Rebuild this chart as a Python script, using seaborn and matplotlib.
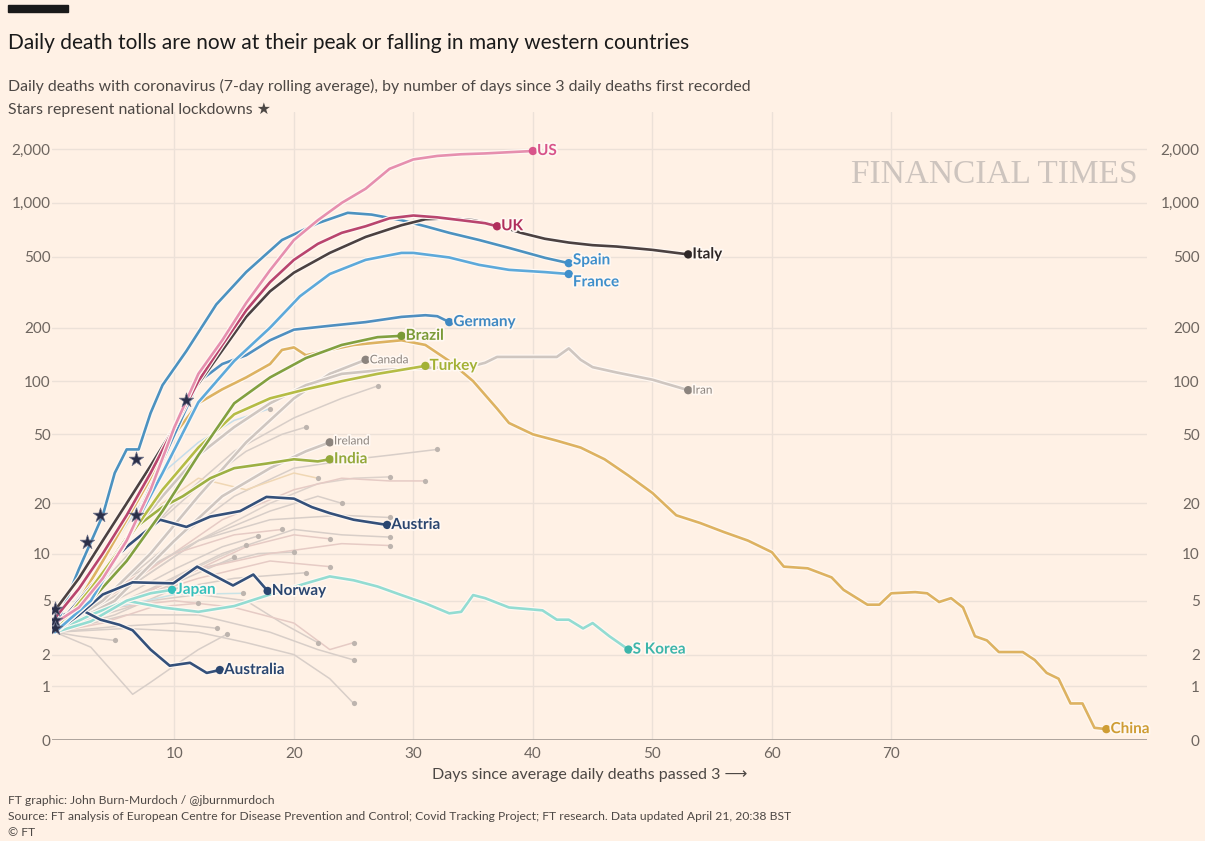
import numpy as np
import pandas as pd
import seaborn as sns
import matplotlib.pyplot as plt
import matplotlib.patheffects as pe
from matplotlib.patches import Rectangle

# ---------------- data ----------------
# days since 3 daily deaths, 7-day rolling average of daily deaths
us_days = [0, 2, 4, 6, 8, 10, 12, 14, 16, 18, 20, 22, 24, 26, 28, 30, 32, 34, 36, 38, 40]
us_vals = [3.5, 4.5, 7, 12, 24, 55, 110, 170, 275, 420, 620, 800, 1000, 1200, 1550, 1750, 1830, 1870, 1890, 1920, 1950]

uk_days = [0, 2, 4, 6, 8, 10, 12, 14, 16, 18, 20, 22, 24, 26, 28, 30, 32, 34, 36, 37]
uk_vals = [3.8, 6, 10, 17, 30, 55, 100, 160, 250, 360, 480, 590, 680, 740, 820, 850, 830, 800, 770, 740]

italy_days = [0, 2, 4, 6, 8, 10, 11, 13, 16, 18, 20, 23, 26, 29, 31, 33, 35, 37, 39, 41, 43, 45, 47, 50, 53]
italy_vals = [4.3, 7, 12, 20, 33, 55, 78, 120, 230, 320, 407, 525, 645, 750, 810, 820, 800, 750, 680, 630, 600, 580, 570, 546, 515]

spain_days = [0, 2, 4, 5, 6, 7, 8, 9, 11, 13.5, 16, 19, 22, 24.5, 26.5, 29, 31, 33, 35.5, 38, 41, 43]
spain_vals = [3.2, 8, 17, 30, 41, 41, 66, 95, 148, 270, 410, 620, 770, 880, 860, 800, 740, 680, 620, 560, 493, 460]

france_days = [0, 3, 6, 9, 12, 15, 18, 20.5, 23, 26, 29, 30, 33, 35.5, 38, 41, 43]
france_vals = [3, 5, 12, 30, 76, 130, 200, 300, 400, 480, 525, 525, 495, 450, 422, 410, 400]

germany_days = [0, 3, 6, 8, 10, 12, 14, 16, 18, 20, 23, 26, 29, 31, 32, 33]
germany_vals = [3, 5, 12, 25, 50, 99, 125, 140, 170, 195, 205, 215, 230, 235, 232, 215]

brazil_days = [0, 3, 6, 9, 12, 15, 18, 21, 24, 27, 29]
brazil_vals = [3, 5, 9, 18, 38, 75, 105, 135, 160, 177, 180]

turkey_days = [0, 3, 6, 9, 12, 15, 18, 21, 24, 27, 31]
turkey_vals = [3, 6, 12, 24, 42, 65, 80, 90, 100, 110, 122]

canada_days = [0, 4, 8, 12, 16, 20, 23, 26]
canada_vals = [3, 5, 10, 22, 45, 80, 110, 132]

iran_days = [0, 3, 6, 9, 12, 15, 18, 21, 24, 27, 30, 33, 35, 36, 37, 42, 43, 44, 45, 47, 50, 53]
iran_vals = [3, 6, 12, 22, 38, 55, 75, 95, 110, 115, 118, 120, 122, 127, 137, 137, 153, 132, 120, 112, 102, 89]

china_days = [0, 2, 4, 6, 8, 10, 12, 14, 16, 18, 19, 20, 21, 23, 25, 27, 29, 31, 33, 35, 37, 38, 40, 42,
              44, 46, 48, 50, 52, 54, 56, 58, 60, 61, 63, 65, 66, 68, 69, 70, 72, 73, 74, 75, 76, 77, 78,
              79, 81, 82, 83, 84, 85, 86, 87, 88]
china_vals = [3, 5, 9, 16, 28, 50, 75, 90, 105, 125, 150, 155, 140, 150, 160, 165, 170, 160, 130, 100, 70, 58,
              50, 46, 42, 36, 29, 23, 17, 15.3, 13.5, 12, 10.2, 8.3, 8.1, 7.1, 5.9, 4.7, 4.7, 5.6, 5.7, 5.6,
              4.9, 5.2, 4.5, 2.8, 2.6, 2.1, 2.1, 1.8, 1.37, 1.2, 0.6, 0.6, 0.17, 0.15]

india_days = [0, 3, 6.5, 9, 10.7, 13, 15, 17.7, 20, 22, 23]
india_vals = [3, 6, 14, 19, 22, 28, 32, 34, 36, 35, 36]

ireland_days = [0, 5, 10, 14, 18, 21, 23]
ireland_vals = [3, 5, 12, 22, 32, 40, 45]

austria_days = [0, 2, 4.6, 6, 8.8, 11, 13, 15.5, 17.7, 20, 21.5, 23, 25, 27.8]
austria_vals = [3.2, 5, 8.7, 11, 16, 14.5, 16.7, 18, 21.8, 21.3, 19, 17.5, 16, 14.9]

norway_days = [0, 2, 4, 6.5, 9.9, 11.9, 14.9, 16.6, 17.8]
norway_vals = [3, 4, 5.5, 6.6, 6.5, 8.3, 6.3, 7.4, 5.8]

japan_days = [0, 3, 6, 8, 9.8]
japan_vals = [3, 3.6, 5, 5.6, 5.9]

skorea_days = [0, 3, 6, 9, 12, 15, 18, 21, 23, 25, 27, 29, 31, 33, 34, 35, 36, 38, 40.8, 42, 43, 44.2, 45, 46.4, 48]
skorea_vals = [3, 4, 5, 4.5, 4.2, 4.6, 5.5, 6.5, 7.2, 6.8, 6.2, 5.45, 4.8, 4.1, 4.2, 5.45, 5.2, 4.5, 4.3, 3.7,
               3.7, 3.2, 3.5, 2.8, 2.2]

australia_days = [0, 2.3, 3.8, 5.4, 6.5, 8, 9.6, 11.3, 12.7, 13.8]
australia_vals = [3.9, 4.3, 3.7, 3.4, 3.1, 2.2, 1.6, 1.7, 1.37, 1.46]

# national lockdowns
star_days = [0, 0, 0, 2.7, 3.8, 6.8, 6.8, 11]
star_vals = [4.4, 3.7, 3.2, 11.8, 17, 36, 17, 78]

# unlabelled countries in the background
bg_days = [
    [0, 5, 10, 15, 20, 24, 27],
    [0, 4, 8, 12, 16, 19, 21],
    [0, 5, 10, 15, 20, 25, 28, 32],
    [0, 6, 12, 18, 22, 25, 28],
    [0, 8, 14, 20, 24, 28, 31],
    [0, 6, 12, 18, 22, 24],
    [0, 8, 14, 20, 24, 28],
    [0, 6, 12, 16, 20, 23],
    [0, 5, 10, 14, 17],
    [0, 5, 10, 15, 19],
    [0, 6, 12, 17, 20],
    [0, 5, 10, 13, 16],
    [0, 5, 10, 15],
    [0, 6, 12, 18, 23],
    [0, 5, 10, 15, 21],
    [0, 4, 8, 12, 16, 19, 22],
    [0, 5, 10, 15, 20, 23, 25],
    [0, 6, 12, 18, 22, 25],
    [0, 6, 12, 16, 20, 23, 25],
    [0, 3, 6.5, 8, 10, 12, 14.4],
    [0, 2, 5],
    [0, 4, 8, 12],
    [0, 5, 10, 13.6],
    [0, 5, 10, 15.7],
    [0, 6, 12, 18, 24, 28],
    [0, 6, 12, 18, 24, 28],
    [0, 3, 6, 9, 12, 16, 20, 22],
    [0, 3, 6, 9, 12, 15, 18],
]
bg_vals = [
    [3, 8, 20, 40, 62, 80, 94],
    [3, 6, 14, 25, 40, 50, 55],
    [3, 6, 12, 22, 32, 36, 38, 41],
    [3, 6, 12, 20, 26, 28, 28.5],
    [3, 8, 16, 24, 28, 27, 27],
    [3, 6, 12, 18, 22, 20],
    [3, 6, 10, 14, 13, 12.6],
    [3, 5, 8, 11, 13, 12.3],
    [3, 5, 8, 11, 12.8],
    [3, 6, 10, 13, 14],
    [3, 5, 8, 10, 10.2],
    [3, 4.5, 7, 9, 11.3],
    [3, 4.5, 6.5, 9.5],
    [3, 5, 7, 9, 8.3],
    [3, 4, 6, 7, 7.6],
    [3, 4, 5, 5.5, 5, 3.5, 2.5],
    [3, 4.5, 5, 4.5, 3.5, 2.2, 2.5],
    [3, 4, 4, 3, 2.2, 1.8],
    [3, 3.2, 3, 2.5, 2, 1.2, 0.6],
    [3, 2.3, 0.8, 1.1, 1.6, 2.2, 2.9],
    [3, 2.8, 2.6],
    [3, 3.5, 4.5, 4.8],
    [3, 3.3, 3.5, 3.2],
    [3, 4.5, 5.5, 5.6],
    [3, 7, 12, 16, 17, 16.5],
    [3, 5, 8, 10, 11.5, 11.2],
    [3, 6, 12, 20, 28, 24, 30, 28],
    [3, 7, 15, 30, 45, 60, 70],
]
bg_colors = ['#D8CEC8', '#D8CEC8', '#D8CEC8', '#DDD2CB', '#E6CBC5', '#D8CEC8', '#D8CEC8', '#E6CBC5',
             '#D8CEC8', '#E6CBC5', '#D8CEC8', '#DDD2CB', '#D8CEC8', '#E6CBC5', '#D8CEC8', '#D8CEC8',
             '#E6CBC5', '#D8CEC8', '#D8CEC8', '#D8CEC8', '#D8CEC8', '#E6CBC5', '#D8CEC8', '#C9E3E6',
             '#D8CEC8', '#E6CBC5', '#F0D7B4', '#C6DDEA']

yticks = [0, 1, 2, 5, 10, 20, 50, 100, 200, 500, 1000, 2000]
ytick_labels = ['0', '1', '2', '5', '10', '20', '50', '100', '200', '500', '1,000', '2,000']
xticks = [10, 20, 30, 40, 50, 60, 70]

# ---------------- styling ----------------
BG = '#FFF1E5'
sns.set_theme(style='white', rc={'figure.facecolor': BG, 'axes.facecolor': BG})
plt.rcParams['font.family'] = ['Lato', 'DejaVu Sans']

series = [
    # name, days, values, line colour, label colour, bold, label offset (pt)
    ('Canada', canada_days, canada_vals, '#CFC6C0', '#8C847E', False, (3, 0)),
    ('Iran', iran_days, iran_vals, '#CFC6C0', '#8C847E', False, (3, 0)),
    ('Ireland', ireland_days, ireland_vals, '#CFC6C0', '#8C847E', False, (3, 1)),
    ('China', china_days, china_vals, '#DDB261', '#CF9D34', True, (3, 0)),
    ('S Korea', skorea_days, skorea_vals, '#93DCD2', '#3DB5AA', True, (3, 0)),
    ('Japan', japan_days, japan_vals, '#93DCD2', '#35C0BC', True, (3, 0)),
    ('Australia', australia_days, australia_vals, '#34507A', '#2A4670', True, (3, 0)),
    ('Norway', norway_days, norway_vals, '#34507A', '#2A4670', True, (3, 0)),
    ('Austria', austria_days, austria_vals, '#34507A', '#2A4670', True, (3, 0)),
    ('India', india_days, india_vals, '#9DB043', '#94A83A', True, (3, 0)),
    ('Turkey', turkey_days, turkey_vals, '#B5BC45', '#A3B135', True, (3, 0)),
    ('Brazil', brazil_days, brazil_vals, '#82A040', '#7A9A37', True, (3, 0)),
    ('Germany', germany_days, germany_vals, '#4F8FC0', '#3F88C2', True, (3, 0)),
    ('France', france_days, france_vals, '#5DA9DA', '#3F8FCB', True, (3, -6)),
    ('Spain', spain_days, spain_vals, '#4C92C0', '#3F8FCB', True, (3, 2)),
    ('Italy', italy_days, italy_vals, '#4B4141', '#2E2727', True, (3, 0)),
    ('UK', uk_days, uk_vals, '#B9456E', '#B02E5C', True, (3, 0)),
    ('US', us_days, us_vals, '#E68FAE', '#D8548A', True, (3, 0)),
]

bg_rows = []
for i, (d, v) in enumerate(zip(bg_days, bg_vals)):
    for x, y in zip(d, v):
        bg_rows.append({'line': f'bg{i}', 'day': x, 'deaths': y})
bg_df = pd.DataFrame(bg_rows)
bg_palette = {f'bg{i}': c for i, c in enumerate(bg_colors)}

fg_rows = []
for name, d, v, *_ in series:
    for x, y in zip(d, v):
        fg_rows.append({'country': name, 'day': x, 'deaths': y})
fg_df = pd.DataFrame(fg_rows)
fg_palette = {s[0]: s[3] for s in series}
ends = fg_df.groupby('country', sort=False).tail(1)
bg_ends = bg_df.groupby('line', sort=False).tail(1)


def fwd(y):
    return np.log10(1 + np.maximum(y, -0.999))


def inv(v):
    return 10 ** v - 1


fig = plt.figure(figsize=(12.05, 8.41), dpi=100)
ax = fig.add_axes([52 / 1205, 1 - 740 / 841, 1095 / 1205, 628 / 841])
ax.set_yscale('function', functions=(fwd, inv))

sns.lineplot(data=bg_df, x='day', y='deaths', hue='line', palette=bg_palette, estimator=None,
             sort=False, legend=False, lw=1.1, ax=ax)
sns.scatterplot(data=bg_ends, x='day', y='deaths', color='#BDB4AE', s=14, linewidth=0, ax=ax, zorder=3)

n_before = len(ax.lines)
sns.lineplot(data=fg_df, x='day', y='deaths', hue='country', palette=fg_palette, estimator=None,
             sort=False, legend=False, lw=1.9, ax=ax)
for ln in ax.lines[n_before:]:
    ln.set_path_effects([pe.Stroke(linewidth=3.6, foreground='#FFF8F2'), pe.Normal()])
    ln.set_zorder(4)

sns.scatterplot(data=ends, x='day', y='deaths', hue='country',
                palette={s[0]: s[4] for s in series}, s=36, linewidth=0, legend=False, ax=ax, zorder=5)

sns.scatterplot(x=star_days, y=star_vals, marker='*', s=120, color='#2B2F48', edgecolor='#6B6F88',
                linewidth=0.5, ax=ax, zorder=6)

for name, d, v, lc, tc, bold, off in series:
    ax.annotate(name, (d[-1], v[-1]), xytext=off, textcoords='offset points', va='center', ha='left',
                fontsize=11 if bold else 8.5, fontweight='bold' if bold else 'normal', color=tc,
                zorder=7, path_effects=[pe.withStroke(linewidth=2.5, foreground='#FFF8F2')])

ax.set_xlim(-0.25, 91.4)
ax.set_ylim(0, 3221)
ax.set_xticks(xticks)
ax.set_yticks(yticks)
ax.set_yticklabels(ytick_labels)
ax.set_xlabel('')
ax.set_ylabel('')
ax.grid(True, color='#ECE1D8', lw=1)
ax.set_axisbelow(True)
for s in ax.spines.values():
    s.set_visible(False)
ax.axhline(0, color='#A79E97', lw=1.3, zorder=2)
ax.tick_params(axis='x', length=0, pad=5, labelsize=11, labelcolor='#6E6660')
ax.tick_params(axis='y', length=0, pad=1, labelsize=11, labelcolor='#6E6660')

# right-hand copy of the y axis
ax2 = ax.twinx()
ax2.set_yscale('function', functions=(fwd, inv))
ax2.set_ylim(ax.get_ylim())
ax2.set_yticks(yticks)
ax2.set_yticklabels(ytick_labels)
ax2.tick_params(axis='y', length=0, pad=38, labelsize=11, labelcolor='#6E6660')
for t in ax2.get_yticklabels():
    t.set_horizontalalignment('right')
for s in ax2.spines.values():
    s.set_visible(False)
ax2.grid(False)

ax.text(0.861, 0.9, 'FINANCIAL TIMES', transform=ax.transAxes, ha='center', va='center',
        family='Liberation Serif', fontsize=24, color='#CDC4BE')

# ---------------- titles and footer ----------------
fig.add_artist(Rectangle((8 / 1205, 1 - 12 / 841), 60 / 1205, 7 / 841, transform=fig.transFigure,
                         color='#1A1A1A'))
fig.text(8 / 1205, 1 - 43 / 841, 'Daily death tolls are now at their peak or falling in many western countries',
         fontsize=15, color='#1A1A1A', va='center')
fig.text(8 / 1205, 1 - 86 / 841,
         'Daily deaths with coronavirus (7-day rolling average), by number of days since 3 daily deaths first recorded',
         fontsize=11.4, color='#4D4845', va='center')
fig.text(8 / 1205, 1 - 110 / 841, 'Stars represent national lockdowns \u2605', fontsize=11.4, color='#4D4845',
         va='center')
fig.text(590 / 1205, 1 - 775 / 841, 'Days since average daily deaths passed 3 \u27f6', fontsize=11.5,
         color='#4D4845', va='center', ha='center')
fig.text(8 / 1205, 1 - 800 / 841, 'FT graphic: John Burn-Murdoch / @jburnmurdoch', fontsize=8.7,
         color='#4D4845', va='center')
fig.text(8 / 1205, 1 - 816 / 841,
         'Source: FT analysis of European Centre for Disease Prevention and Control; Covid Tracking Project; '
         'FT research. Data updated April 21, 20:38 BST', fontsize=8.7, color='#4D4845', va='center')
fig.text(8 / 1205, 1 - 833 / 841, '\u00a9 FT', fontsize=8.7, color='#4D4845', va='center')

fig.savefig('out.png', dpi=100, facecolor=BG)
